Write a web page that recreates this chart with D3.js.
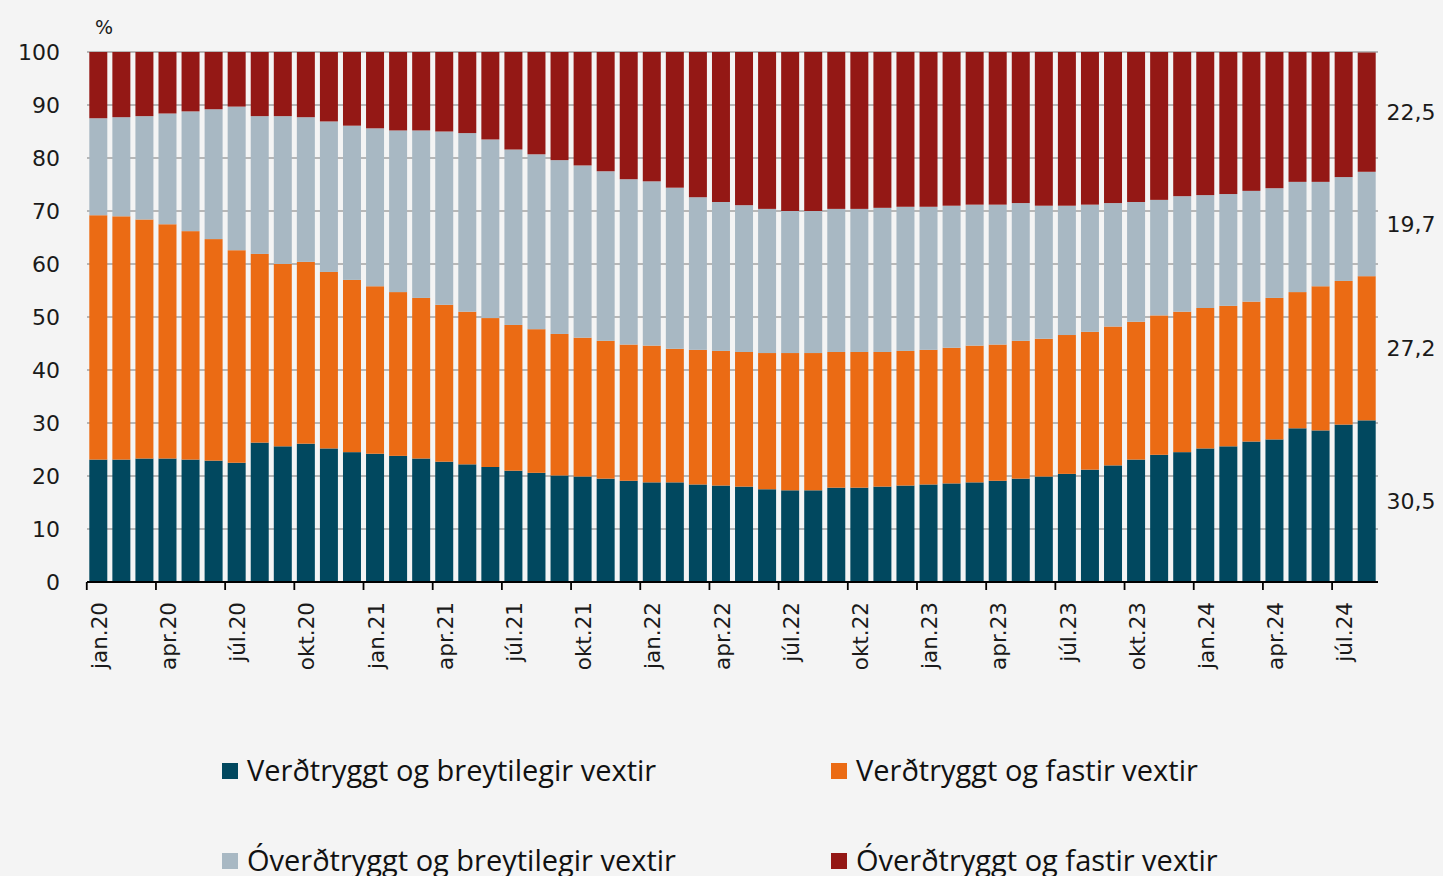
<!DOCTYPE html>
<html>
<head>
<meta charset="utf-8">
<script src="https://cdn.jsdelivr.net/npm/d3@7"></script>
<style>
  body { margin: 0; background: #f4f4f4; }
  svg { display: block; }
</style>
</head>
<body>
<svg id="chart"></svg>
<script>
// month labels jan.20 .. ágú.24
const monthNames = ["jan", "feb", "mar", "apr", "maí", "jún", "júl", "ágú", "sep", "okt", "nóv", "des"];
const months = [];
for (let yr = 20; yr <= 24; yr++) {
  for (let m = 0; m < 12; m++) {
    if (yr === 24 && m > 7) break;
    months.push(monthNames[m] + "." + yr);
  }
}

// shown tick labels (every third month)
const tickLabels = ["jan.20", "apr.20", "júl.20", "okt.20", "jan.21", "apr.21", "júl.21", "okt.21",
  "jan.22", "apr.22", "júl.22", "okt.22", "jan.23", "apr.23", "júl.23", "okt.23",
  "jan.24", "apr.24", "júl.24"];

const seriesNames = ["Verðtryggt og breytilegir vextir", "Verðtryggt og fastir vextir",
  "Óverðtryggt og breytilegir vextir", "Óverðtryggt og fastir vextir"];

const verdBreyt = [23.1, 23.1, 23.3, 23.3, 23.1, 22.9, 22.5, 26.3, 25.6, 26.1, 25.2, 24.5, 24.2, 23.8,
  23.3, 22.7, 22.2, 21.7, 21.0, 20.6, 20.1, 19.9, 19.5, 19.1, 18.8, 18.8, 18.4, 18.2, 18.0, 17.5,
  17.3, 17.3, 17.8, 17.8, 18.0, 18.2, 18.4, 18.6, 18.8, 19.1, 19.5, 19.9, 20.4, 21.2, 22.0, 23.1,
  24.0, 24.5, 25.2, 25.6, 26.5, 26.9, 29.0, 28.6, 29.7, 30.5];

const verdFast = [46.1, 45.9, 45.1, 44.2, 43.1, 41.8, 40.1, 35.6, 34.4, 34.3, 33.3, 32.5, 31.6, 30.9,
  30.3, 29.6, 28.8, 28.1, 27.5, 27.1, 26.7, 26.2, 26.0, 25.7, 25.8, 25.2, 25.4, 25.4, 25.4, 25.7,
  25.9, 25.9, 25.6, 25.6, 25.4, 25.4, 25.4, 25.6, 25.8, 25.7, 26.0, 26.0, 26.2, 26.0, 26.2, 26.0,
  26.3, 26.5, 26.5, 26.5, 26.4, 26.7, 25.7, 27.2, 27.1, 27.2];

const overdBreyt = [18.3, 18.7, 19.5, 20.9, 22.6, 24.5, 27.1, 26.0, 27.9, 27.3, 28.4, 29.1, 29.8, 30.5,
  31.6, 32.7, 33.7, 33.7, 33.1, 33.0, 32.8, 32.5, 32.0, 31.2, 31.0, 30.4, 28.8, 28.1, 27.7, 27.2,
  26.8, 26.8, 27.0, 27.0, 27.2, 27.2, 27.0, 26.8, 26.6, 26.4, 26.0, 25.1, 24.4, 24.0, 23.3, 22.6,
  21.8, 21.8, 21.3, 21.1, 20.9, 20.7, 20.8, 19.7, 19.6, 19.7];

const overdFast = [12.5, 12.3, 12.1, 11.6, 11.2, 10.8, 10.3, 12.1, 12.1, 12.3, 13.1, 13.9, 14.4, 14.8,
  14.8, 15.0, 15.3, 16.5, 18.4, 19.3, 20.4, 21.4, 22.5, 24.0, 24.4, 25.6, 27.4, 28.3, 28.9, 29.6,
  30.0, 30.0, 29.6, 29.6, 29.4, 29.2, 29.2, 29.0, 28.8, 28.8, 28.5, 29.0, 29.0, 28.8, 28.5, 28.3,
  27.9, 27.2, 27.0, 26.8, 26.2, 25.7, 24.5, 24.5, 23.6, 22.5];

const yTicks = [0, 10, 20, 30, 40, 50, 60, 70, 80, 90, 100];

const colors = ["#01485f", "#eb6b14", "#a8b8c3", "#941815"];
const keys = ["a", "b", "c", "d"];

const W = 1443, H = 876;
const margin = { top: 52, right: 65, bottom: 294, left: 87 };

const svg = d3.select("#chart").attr("width", W).attr("height", H);

const table = months.map((m, i) => ({
  month: m, a: verdBreyt[i], b: verdFast[i], c: overdBreyt[i], d: overdFast[i]
}));

const x = d3.scaleBand()
  .domain(months)
  .range([margin.left, W - margin.right])
  .paddingInner(0.22)
  .paddingOuter(0.1);

const y = d3.scaleLinear()
  .domain([0, 100])
  .range([H - margin.bottom, margin.top]);

// gridlines under bars
svg.append("g")
  .selectAll("line")
  .data(yTicks.filter(d => d > 0))
  .enter()
  .append("line")
  .attr("x1", margin.left)
  .attr("x2", W - margin.right)
  .attr("y1", d => y(d))
  .attr("y2", d => y(d))
  .attr("stroke", "#a3a3a3")
  .attr("stroke-width", 1.5);

const stack = d3.stack().keys(keys);
const layers = stack(table);

svg.append("g")
  .selectAll("g")
  .data(layers)
  .enter()
  .append("g")
  .attr("fill", (d, i) => colors[i])
  .selectAll("rect")
  .data(d => d)
  .enter()
  .append("rect")
  .attr("x", d => x(d.data.month))
  .attr("width", x.bandwidth())
  .attr("y", d => y(d[1]))
  .attr("height", d => y(d[0]) - y(d[1]));

// y axis labels
svg.append("g")
  .selectAll("text")
  .data(yTicks)
  .enter()
  .append("text")
  .attr("x", 60)
  .attr("y", d => y(d))
  .attr("dy", "0.36em")
  .attr("text-anchor", "end")
  .style("font-family", "DejaVu Sans")
  .style("font-size", "22px")
  .attr("fill", "#1a1a1a")
  .text(d => d);

svg.append("text")
  .attr("x", 95)
  .attr("y", 34)
  .style("font-family", "DejaVu Sans")
  .style("font-size", "19px")
  .attr("fill", "#1a1a1a")
  .text("%");

// x axis
const step = x.step();
const gap = step * 0.22;
const xAxis = svg.append("g")
  .attr("transform", `translate(0,${y(0)})`)
  .call(d3.axisBottom(x).tickValues(tickLabels).tickSize(8).tickFormat(""));
xAxis.select(".domain").attr("stroke", "#000").attr("stroke-width", 1.8)
  .attr("d", `M${margin.left},0H${W - margin.right}`);
xAxis.selectAll(".tick line")
  .attr("stroke", "#000")
  .attr("stroke-width", 1.8)
  .attr("x1", -x.bandwidth() / 2 - gap / 2)
  .attr("x2", -x.bandwidth() / 2 - gap / 2);

svg.append("g")
  .selectAll("text")
  .data(tickLabels)
  .enter()
  .append("text")
  .attr("transform", d => `translate(${x(d) + x.bandwidth() / 2},${y(0) + 20}) rotate(-90)`)
  .attr("dy", "0.4em")
  .attr("text-anchor", "end")
  .style("font-family", "DejaVu Sans")
  .style("font-size", "21.5px")
  .attr("fill", "#1a1a1a")
  .text(d => d);

// end labels on last bar
const last = layers.map(l => l[l.length - 1]);
svg.append("g")
  .selectAll("text")
  .data(last)
  .enter()
  .append("text")
  .attr("x", 1411)
  .attr("y", d => y((d[0] + d[1]) / 2))
  .attr("dy", "0.36em")
  .attr("text-anchor", "middle")
  .style("font-family", "DejaVu Sans")
  .style("font-size", "22px")
  .attr("fill", "#1a1a1a")
  .text(d => d3.format(".1f")(d[1] - d[0]).replace(".", ","));

// legend
const legendPos = [[222, 771], [831, 771], [222, 861], [831, 861]];
const legend = svg.append("g")
  .selectAll("g")
  .data(seriesNames)
  .enter()
  .append("g")
  .attr("transform", (d, i) => `translate(${legendPos[i][0]},${legendPos[i][1]})`);

legend.append("rect")
  .attr("x", 0)
  .attr("y", -8)
  .attr("width", 16)
  .attr("height", 16)
  .attr("fill", (d, i) => colors[i]);

legend.append("text")
  .attr("x", 25)
  .attr("dy", "0.36em")
  .style("font-family", "Open Sans")
  .style("font-size", "29px")
  .attr("fill", "#111")
  .text(d => d);
</script>
</body>
</html>
